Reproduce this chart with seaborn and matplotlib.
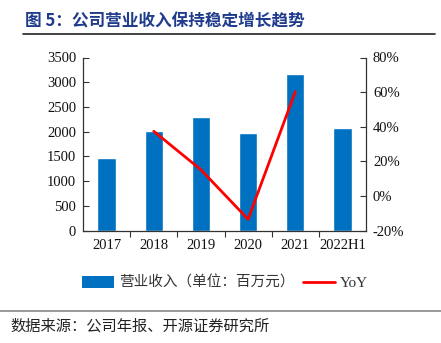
import numpy as np
import pandas as pd
import matplotlib
matplotlib.use("Agg")
import matplotlib.pyplot as plt
import seaborn as sns
from matplotlib.lines import Line2D
from matplotlib.patches import Patch

categories = ["2017", "2018", "2019", "2020", "2021", "2022H1"]
revenue = [1460, 2010, 2300, 1980, 3165, 2070]
yoy = [np.nan, 37.4, 15.2, -13.4, 60.2, np.nan]
left_ticks = [0, 500, 1000, 1500, 2000, 2500, 3000, 3500]
right_ticks = [-20, 0, 20, 40, 60, 80]

sns.set_theme(style="white")
plt.rcParams['font.family'] = ['Liberation Serif', 'Noto Sans CJK SC', 'DejaVu Sans']
cjk = ['Noto Sans CJK SC', 'DejaVu Sans']

W, H = 441, 343
fig = plt.figure(figsize=(W / 100, H / 100), dpi=100)
ax = fig.add_axes([83 / W, 1 - 230.7 / H, (366 - 83) / W, (230.7 - 57.5) / H])

df = pd.DataFrame({"cat": categories, "rev": revenue, "yoy": yoy, "pos": np.arange(len(categories))})
sns.barplot(data=df, x="cat", y="rev", color="#0070C0", saturation=1, width=0.39, ax=ax)
ax.set_ylim(0, 3500)
ax.set_xlim(-0.5, len(categories) - 0.5)
ax.set_yticks(left_ticks)
ax.set_yticklabels([str(t) for t in left_ticks], fontsize=10.5)
ax.set_xlabel("")
ax.set_ylabel("")
ax.set_xticks(range(len(categories)))
ax.set_xticklabels(categories, fontsize=10.5)
ax.tick_params(axis="x", length=0, pad=6)
ax.set_xticks(np.arange(0.5, len(categories) - 0.5, 1), minor=True)
ax.tick_params(axis="x", which="minor", direction="out", length=4, width=0.8, color="#333333", bottom=True)
ax.tick_params(axis="y", direction="in", length=4, width=0.8, color="#333333", left=True, pad=5)

ax2 = ax.twinx()
sns.lineplot(data=df.dropna(), x="pos", y="yoy", color="#FF0000", linewidth=2, ax=ax2)
ax2.set_ylim(-20, 80)
ax2.set_yticks(right_ticks)
ax2.set_yticklabels([f"{t}%" for t in right_ticks], fontsize=10.5)
ax2.set_ylabel("")
ax2.set_xlabel("")
ax2.tick_params(axis="y", direction="in", length=4, width=0.8, color="#333333", right=True, pad=5)
ax.set_xlim(-0.5, len(categories) - 0.5)

for a in (ax, ax2):
    a.spines["top"].set_visible(False)
    for s in ("left", "right", "bottom"):
        a.spines[s].set_color("#333333")
        a.spines[s].set_linewidth(0.9)
ax.spines["right"].set_visible(False)
ax2.spines["left"].set_visible(False)
ax2.spines["bottom"].set_visible(False)
for lbl in ax.get_xticklabels() + ax.get_yticklabels() + ax2.get_yticklabels():
    lbl.set_color("#111111")

handles = [Patch(facecolor="#0070C0", edgecolor="none"),
           Line2D([0], [0], color="#FF0000", lw=2)]
leg = fig.legend(handles, ["营业收入（单位：百万元）", "YoY"], loc="center",
                 bbox_to_anchor=(225 / W, 1 - 283 / H), ncol=2, frameon=False,
                 handlelength=2.2, handleheight=0.8, columnspacing=0.6, handletextpad=0.3,
                 prop={"family": cjk, "size": 10.5})
leg.get_texts()[1].set_fontfamily(['Liberation Serif'])
leg.get_texts()[1].set_fontsize(11)
for t in leg.get_texts():
    t.set_color("#333333")

fig.text(25 / W, 1 - 21 / H, "图 5：公司营业收入保持稳定增长趋势", fontsize=12, fontweight="bold",
         color="#1F3B8C", family=cjk, ha="left", va="center")
fig.add_artist(Line2D([23 / W, 435 / W], [1 - 34 / H, 1 - 34 / H], color="#222222", lw=1.2))
fig.add_artist(Line2D([0, 1], [1 - 311 / H, 1 - 311 / H], color="#888888", lw=1.2))
fig.text(10 / W, 1 - 326 / H, "数据来源：公司年报、开源证券研究所", fontsize=11, color="#222222",
         family=cjk, ha="left", va="center")

fig.savefig("out.png", dpi=100)
